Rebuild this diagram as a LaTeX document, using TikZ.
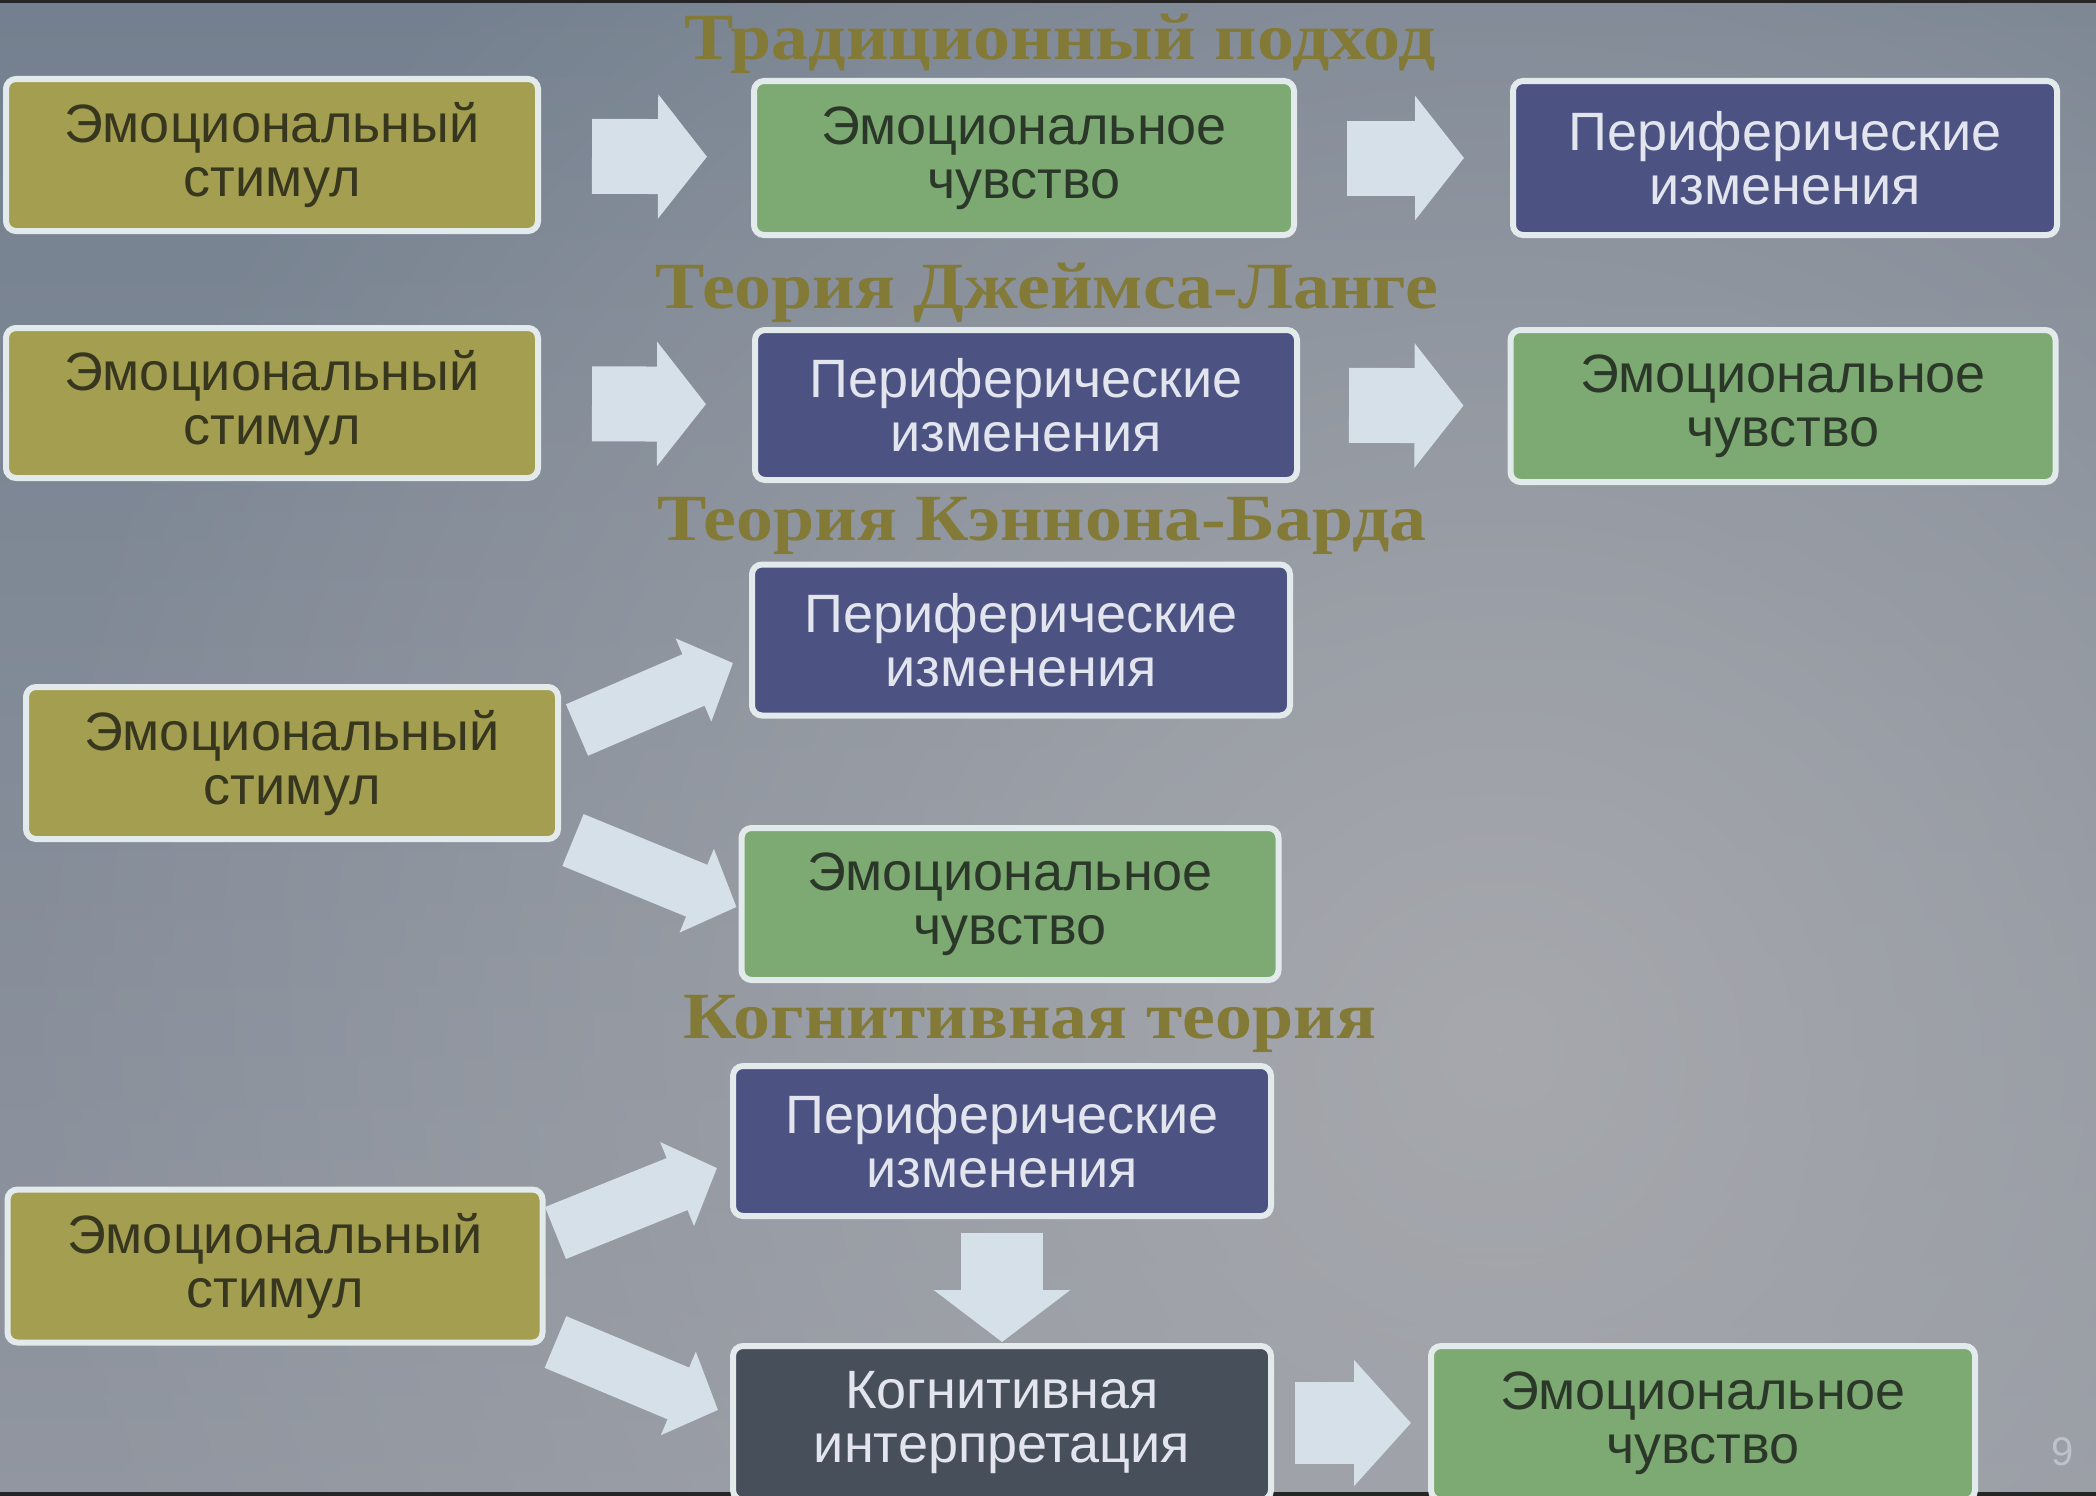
\documentclass[tikz,border=0pt]{standalone}
\usepackage{fontspec}
\setmainfont{Liberation Sans}
\newfontfamily\titlefam[FakeStretch=1.12]{Liberation Serif}
\usetikzlibrary{arrows.meta,fadings}
\definecolor{bgtop}{HTML}{74808F}
\definecolor{bgbot}{HTML}{9196A0}
\definecolor{bghi}{HTML}{A6A8AD}
\definecolor{olivec}{HTML}{A49E50}
\definecolor{greenc}{HTML}{7DAA72}
\definecolor{bluec}{HTML}{4C5281}
\definecolor{darkc}{HTML}{474F5B}
\definecolor{bordc}{HTML}{E3EAEC}
\definecolor{arrowc}{HTML}{D6E0E8}
\definecolor{titlec}{HTML}{837A37}
\definecolor{dtext}{HTML}{37361F}
\definecolor{gtext}{HTML}{2B3829}
\definecolor{ltext}{HTML}{E2E5EE}
\definecolor{pagec}{HTML}{BCC3CA}
\tikzfading[name=softglow, inner color=transparent!0, outer color=transparent!100]
\newcommand\boxfnt{\fontsize{54}{54}\selectfont}
\newcommand\titlefnt{\titlefam\bfseries\fontsize{66}{70}\selectfont}
\begin{document}
\begin{tikzpicture}[x=1pt,y=-1pt,
  box/.style={draw=bordc, line width=6pt, rounded corners=10pt, align=center,
    inner sep=0pt, font=\boxfnt},
  obox/.style={box, fill=olivec, text=dtext},
  gbox/.style={box, fill=greenc, text=gtext},
  bbox/.style={box, fill=bluec, text=ltext},
  kbox/.style={box, fill=darkc, text=ltext},
  ttl/.style={font=\titlefnt, text=titlec, inner sep=0pt},
  harrow/.style={draw=arrowc, line width=75pt, -{Triangle[length=49pt,width=122pt]}},
  barrow/.style={draw=arrowc, line width=82pt, -{Triangle[length=55pt,width=126pt]}},
  darrow/.style={draw=arrowc, line width=56pt, -{Triangle[length=43pt,width=88pt]}}
]
\useasboundingbox (0,0) rectangle (2096,1496);
\shade[top color=bgtop, bottom color=bgbot] (0,0) rectangle (2096,1496);
\begin{scope}
\clip (0,0) rectangle (2096,1496);
\fill[bghi, path fading=softglow] (1500,1050) circle (1500);
\end{scope}
\fill[black!85] (0,0) rectangle (2096,3);
\fill[black!85] (0,1492) rectangle (2096,1496);

% titles
\node[ttl] (t1) at (1060,44) {Традиционный подход};
\node[ttl] (t2) at (1047,293) {Теория Джеймса-Ланге};
\node[ttl] (t3) at (1042,526) {Теория Кэннона-Барда};
\node[ttl] (t4) at (1030,1024) {Когнитивная теория};

% row 1
\node[obox, minimum width=532pt, minimum height=152pt] (A1) at (272,155) {Эмоциональный\\стимул};
\node[gbox, minimum width=540pt, minimum height=154pt] (G1) at (1024,158) {Эмоциональное\\чувство};
\node[bbox, minimum width=544pt, minimum height=154pt] (B1) at (1785,158) {Периферические\\изменения};
% row 2
\node[obox, minimum width=532pt, minimum height=150pt] (A2) at (272,403) {Эмоциональный\\стимул};
\node[bbox, minimum width=542pt, minimum height=150pt] (B2) at (1026,405) {Периферические\\изменения};
\node[gbox, minimum width=545pt, minimum height=152pt] (G2) at (1783,406) {Эмоциональное\\чувство};
% row 3
\node[bbox, minimum width=538pt, minimum height=151pt] (B3) at (1021,640) {Периферические\\изменения};
\node[obox, minimum width=532pt, minimum height=152pt] (A3) at (292,763) {Эмоциональный\\стимул};
\node[gbox, minimum width=537pt, minimum height=152pt] (G3) at (1010,904) {Эмоциональное\\чувство};
% row 4
\node[bbox, minimum width=538pt, minimum height=150pt] (B4) at (1002,1141) {Периферические\\изменения};
\node[obox, minimum width=535pt, minimum height=153pt] (A4) at (275,1266) {Эмоциональный\\стимул};
\node[kbox, minimum width=538pt, minimum height=154pt] (K4) at (1002,1423) {Когнитивная\\интерпретация};
\node[gbox, minimum width=544pt, minimum height=154pt] (G4) at (1703,1423) {Эмоциональное\\чувство};

\node[text=pagec, font=\fontsize{40}{40}\selectfont] (pg) at (2063,1452) {9};

% arrows
\draw[harrow, shorten <=51pt, shorten >=44pt] (A1) -- (G1);
\draw[harrow, shorten <=50pt, shorten >=46pt] (G1) -- (B1);
\draw[harrow, shorten <=51pt, shorten >=46pt] (A2) -- (B2);
\draw[harrow, shorten <=49pt, shorten >=44pt] (B2) -- (G2);

\draw[darrow] ([shift={(16,-33)}]A3.east) -- ([shift={(-16,23)}]B3.west);
\draw[darrow] ([shift={(12,77)}]A3.east) -- ([shift={(-2,3)}]G3.west);
\draw[darrow] ([shift={(10,-33)}]A4.east) -- ([shift={(-13,27)}]B4.west);
\draw[darrow] ([shift={(10,76)}]A4.east) -- ([shift={(-12,-13)}]K4.west);

\draw[barrow, -{Triangle[length=52pt,width=134pt]}, shorten <=14pt, shorten >=1pt] (B4) -- (K4);
\draw[barrow, -{Triangle[length=57pt,width=123pt]}, shorten <=21pt, shorten >=17pt] (K4) -- (G4);
\end{tikzpicture}
\end{document}
